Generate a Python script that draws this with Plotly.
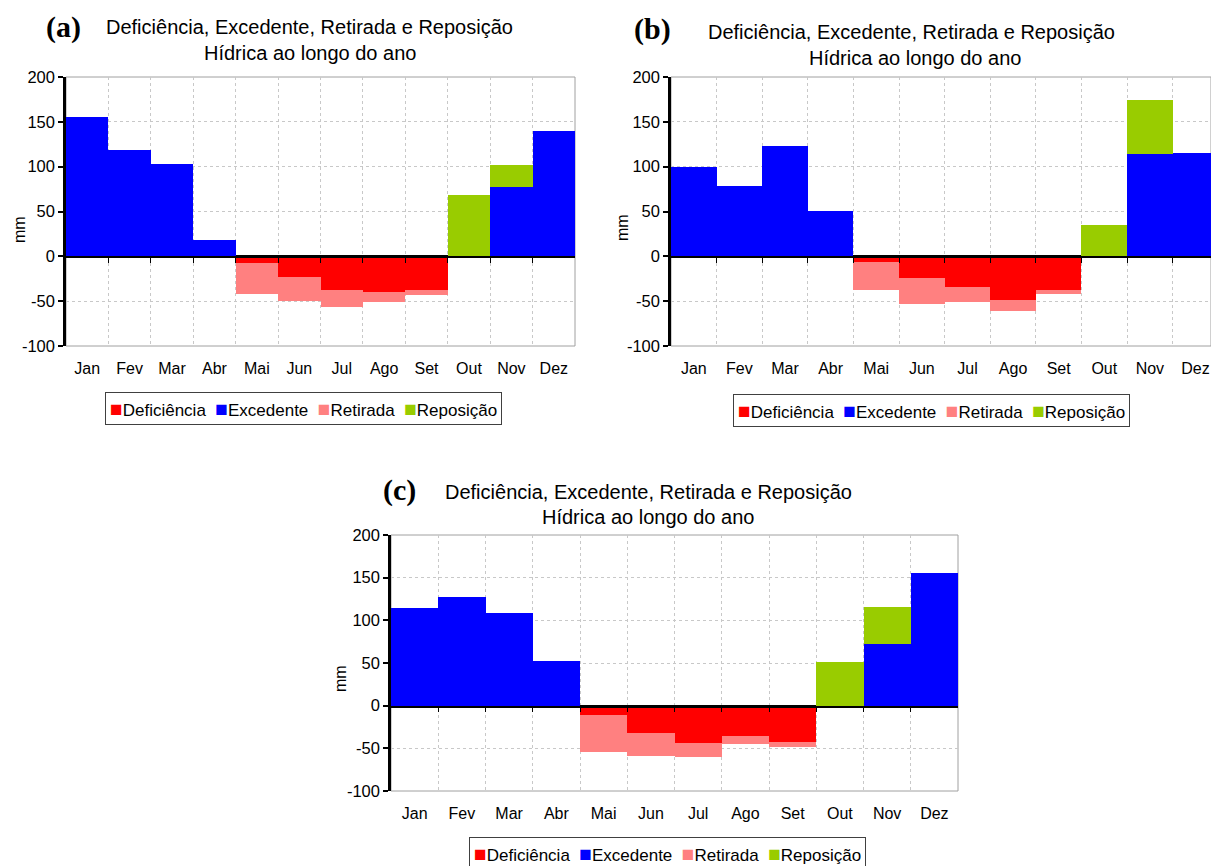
import plotly.graph_objects as go

W, H = 1211, 866

months = ["Jan", "Fev", "Mar", "Abr", "Mai", "Jun", "Jul", "Ago", "Set", "Out", "Nov", "Dez"]
series_names = ["Deficiência", "Excedente", "Retirada", "Reposição"]

# Panel (a)
a_def = [0, 0, 0, 0, -7, -23, -37.5, -40, -37, 0, 0, 0]
a_exc = [155, 119, 103, 18, 0, 0, 0, 0, 0, 0, 77, 140]
a_ret = [0, 0, 0, 0, -35, -27, -18.5, -11, -6.5, 0, 0, 0]
a_rep = [0, 0, 0, 0, 0, 0, 0, 0, 0, 68, 25, 0]

# Panel (b)
b_def = [0, 0, 0, 0, -6, -24.5, -34.5, -49, -37, 0, 0, 0]
b_exc = [100, 78, 123, 51, 0, 0, 0, 0, 0, 0, 114, 115]
b_ret = [0, 0, 0, 0, -31.5, -29, -16.5, -12, -5, 0, 0, 0]
b_rep = [0, 0, 0, 0, 0, 0, 0, 0, 0, 35, 60, 0]

# Panel (c)
c_def = [0, 0, 0, 0, -11.5, -32, -44, -36, -43, 0, 0, 0]
c_exc = [115, 127, 109, 52, 0, 0, 0, 0, 0, 0, 72, 155]
c_ret = [0, 0, 0, 0, -43, -26.5, -16, -8.5, -5.5, 0, 0, 0]
c_rep = [0, 0, 0, 0, 0, 0, 0, 0, 0, 51, 44, 0]

y_ticks = [-100, -50, 0, 50, 100, 150, 200]
y_tick_labels = ["-100", "-50", "0", "50", "100", "150", "200"]

colors = ["#FF0000", "#0000FF", "#FF8080", "#99CC00"]
FONT = "Liberation Sans, Arial, sans-serif"
SERIF = "Liberation Serif, Times New Roman, serif"
GRID = "#c8c8c8"
BORDER = "#a0a0a0"


def px(x):
    return x / W


def py(y):
    return 1 - y / H


panels = [
    dict(key="", data=[a_def, a_exc, a_ret, a_rep], xd=[px(66), px(575)], yd=[py(346), py(77)],
         xr=[-0.5, 11.5]),
    dict(key="2", data=[b_def, b_exc, b_ret, b_rep], xd=[px(671), 1.0], yd=[py(346), py(77)],
         xr=[-0.5, 11.34]),
    dict(key="3", data=[c_def, c_exc, c_ret, c_rep], xd=[px(391), px(958)], yd=[py(791), py(535)],
         xr=[-0.5, 11.5]),
]

fig = go.Figure()
xs = list(range(len(months)))
boundaries = [i + 0.5 for i in range(len(months) - 1)]

layout = dict(
    template="none",
    width=W, height=H, margin=dict(l=0, r=0, t=0, b=0, pad=0, autoexpand=False),
    paper_bgcolor="white", plot_bgcolor="rgba(0,0,0,0)",
    barmode="relative", bargap=0, showlegend=False,
    font=dict(family=FONT, size=16, color="black"),
    shapes=[], annotations=[],
)

for i, p in enumerate(panels):
    k = p["key"]
    for name, vals, col in zip(series_names, p["data"], colors):
        fig.add_trace(go.Bar(
            x=xs, y=vals, name=name, marker=dict(color=col, line=dict(width=0)),
            xaxis="x" + k, yaxis="y" + k, hoverinfo="name+y",
        ))
    ymin, ymax = y_ticks[0], y_ticks[-1]
    layout["xaxis" + k] = dict(
        domain=p["xd"], anchor="y" + k, range=p["xr"], automargin=False,
        tickmode="array", tickvals=xs, ticktext=months, ticks="",
        showgrid=False, zeroline=False, showline=False,
        ticklabelstandoff=11, tickfont=dict(size=16),
        minor=dict(tickmode="array", tickvals=boundaries, showgrid=True,
                   griddash="dot", gridcolor=GRID, gridwidth=1, ticks=""),
    )
    layout["yaxis" + k] = dict(
        domain=p["yd"], anchor="x" + k, range=[ymin, ymax], automargin=False,
        tickmode="array", tickvals=y_ticks, ticktext=y_tick_labels,
        ticks="outside", ticklen=5, tickwidth=2, tickcolor="black",
        showgrid=True, gridcolor=GRID, griddash="dot", gridwidth=1,
        zeroline=True, zerolinecolor="black", zerolinewidth=1.5,
        showline=True, linecolor="black", linewidth=2.5,
        tickfont=dict(size=16.5),
    )
    # zero-line axis (with category-boundary ticks) via a helper subplot
    zero_pos = p["yd"][0] + (0 - ymin) / (ymax - ymin) * (p["yd"][1] - p["yd"][0])
    xo, yo = str(4 + i), str(7 + i)
    layout["yaxis" + yo] = dict(domain=[zero_pos, p["yd"][1]], anchor="x" + xo,
                                range=[0, 1], showline=False, showgrid=False, zeroline=False,
                                showticklabels=False, ticks="", automargin=False)
    layout["xaxis" + xo] = dict(
        domain=p["xd"], anchor="y" + yo, range=p["xr"], side="bottom", automargin=False,
        tickmode="array", tickvals=boundaries,
        ticks="outside", ticklen=5, tickwidth=1, tickcolor="black",
        showticklabels=False, showgrid=False, zeroline=False,
        showline=True, linecolor="black", linewidth=1.5,
    )
    fig.add_trace(go.Scatter(x=[None], y=[None], xaxis="x" + xo, yaxis="y" + yo,
                             mode="markers", showlegend=False, hoverinfo="skip"))
    layout["shapes"].append(dict(
        type="rect", xref="x" + k + " domain", yref="y" + k + " domain",
        x0=0, x1=1, y0=0, y1=1, line=dict(color=BORDER, width=1), layer="below",
    ))

fig.update_layout(**layout)

ann = []


def text(x, y, s, size=20, family=FONT, bold=False, angle=0, **kw):
    d = dict(
        x=px(x), y=py(y), xref="paper", yref="paper", text=("<b>%s</b>" % s) if bold else s,
        showarrow=False, xanchor="center", yanchor="middle", textangle=angle,
        font=dict(family=family, size=size, color="black"),
    )
    d.update(kw)
    ann.append(d)


title1 = "Deficiência, Excedente, Retirada e Reposição"
title2 = "Hídrica ao longo do ano"

legend_text = "\u00a0\u00a0".join(
    "<span style='color:%s;font-size:21px'>■</span>%s" % (c, n)
    for c, n in zip(colors, series_names)
)
leg_kw = dict(bordercolor="#404040", borderwidth=1, borderpad=4, bgcolor="white")

text(63, 27, "(a)", size=30, family=SERIF, bold=True)
text(310, 27, title1)
text(310, 53, title2)
text(20, 230, "mm", size=16, angle=-90)
text(303.5, 408, legend_text, size=17, **leg_kw)

text(653, 29, "(b)", size=30, family=SERIF, bold=True)
text(911, 32, title1)
text(915, 58, title2)
text(622, 228, "mm", size=16, angle=-90)
text(931, 410, legend_text, size=17, **leg_kw)

text(399, 490, "(c)", size=30, family=SERIF, bold=True)
text(648, 492, title1)
text(648, 517, title2)
text(340, 679, "mm", size=16, angle=-90)
text(667.5, 853, legend_text, size=17, **leg_kw)

fig.update_layout(annotations=ann)

fig.write_html("out.html", config={"displayModeBar": False},
               post_script="document.body.style.margin='0';")
